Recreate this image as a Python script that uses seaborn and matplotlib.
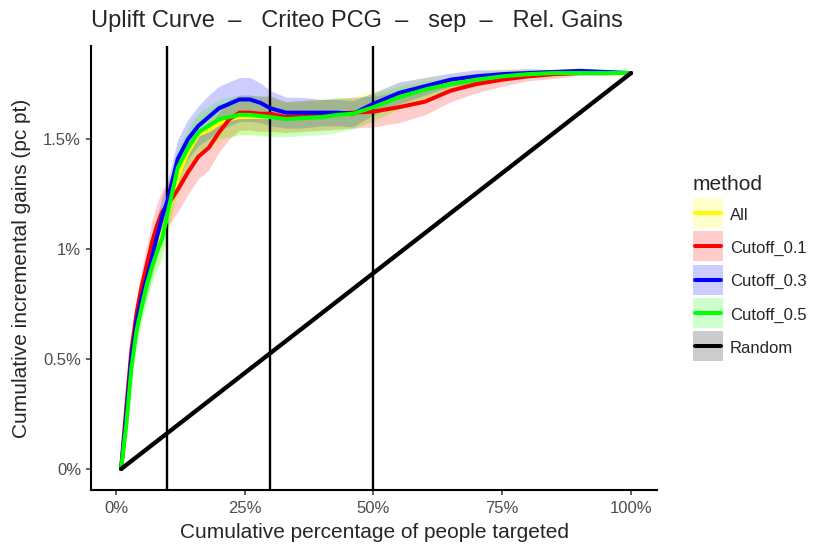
import numpy as np
import pandas as pd
import seaborn as sns
import matplotlib
matplotlib.use("Agg")
import matplotlib.pyplot as plt
from matplotlib.lines import Line2D
from matplotlib.patches import Rectangle

# (procent populacji -> zysk w pp)
pct = [1, 2, 3, 4, 5, 6, 7, 8, 9, 10, 12, 14, 16, 18, 20, 22, 24, 26, 28, 30,
       33, 36, 40, 43, 46, 50, 55, 60, 65, 70, 75, 80, 85, 90, 95, 100]

gain_all = [0, 0.21, 0.47, 0.64, 0.76, 0.86, 0.94, 1.01, 1.07, 1.15, 1.33, 1.44,
            1.52, 1.54, 1.57, 1.59, 1.60, 1.60, 1.60, 1.60, 1.595, 1.60, 1.61,
            1.61, 1.62, 1.65, 1.695, 1.73, 1.755, 1.775, 1.79, 1.80, 1.80, 1.805,
            1.80, 1.80]
gain_c01 = [0, 0.28, 0.54, 0.71, 0.83, 0.93, 1.03, 1.11, 1.17, 1.20, 1.27, 1.35,
            1.42, 1.46, 1.53, 1.59, 1.62, 1.62, 1.615, 1.615, 1.60, 1.605, 1.61,
            1.615, 1.62, 1.625, 1.645, 1.67, 1.72, 1.75, 1.77, 1.785, 1.795, 1.80,
            1.80, 1.80]
gain_c03 = [0, 0.24, 0.51, 0.67, 0.78, 0.87, 0.96, 1.06, 1.15, 1.22, 1.41, 1.50,
            1.56, 1.60, 1.64, 1.66, 1.68, 1.68, 1.665, 1.64, 1.62, 1.62, 1.62,
            1.62, 1.615, 1.66, 1.71, 1.74, 1.77, 1.785, 1.795, 1.80, 1.805, 1.81,
            1.805, 1.80]
gain_c05 = [0, 0.20, 0.46, 0.63, 0.74, 0.84, 0.92, 0.99, 1.05, 1.16, 1.37, 1.46,
            1.53, 1.56, 1.59, 1.60, 1.61, 1.61, 1.605, 1.60, 1.59, 1.595, 1.60,
            1.61, 1.615, 1.645, 1.69, 1.725, 1.75, 1.77, 1.785, 1.795, 1.80, 1.80,
            1.80, 1.80]

# polowa szerokosci pasma niepewnosci
band_all = [0, 0.03, 0.05, 0.06, 0.07, 0.08, 0.08, 0.09, 0.09, 0.09, 0.09, 0.09,
            0.09, 0.09, 0.09, 0.08, 0.08, 0.08, 0.08, 0.08, 0.07, 0.07, 0.07,
            0.07, 0.07, 0.07, 0.06, 0.05, 0.04, 0.03, 0.03, 0.02, 0.02, 0.01,
            0.01, 0]
band_c01 = [0, 0.03, 0.05, 0.07, 0.08, 0.09, 0.10, 0.10, 0.10, 0.10, 0.10, 0.10,
            0.10, 0.10, 0.09, 0.09, 0.08, 0.08, 0.08, 0.08, 0.07, 0.07, 0.07,
            0.07, 0.07, 0.07, 0.07, 0.06, 0.05, 0.04, 0.03, 0.02, 0.02, 0.01,
            0.01, 0]
band_c03 = [0, 0.03, 0.05, 0.06, 0.07, 0.08, 0.08, 0.09, 0.09, 0.09, 0.09, 0.09,
            0.09, 0.10, 0.10, 0.10, 0.10, 0.10, 0.09, 0.08, 0.07, 0.07, 0.06,
            0.06, 0.06, 0.05, 0.05, 0.04, 0.03, 0.03, 0.02, 0.02, 0.01, 0.01,
            0.01, 0]
band_c05 = [0, 0.03, 0.05, 0.06, 0.07, 0.08, 0.08, 0.08, 0.09, 0.09, 0.09, 0.09,
            0.09, 0.09, 0.09, 0.09, 0.09, 0.09, 0.09, 0.09, 0.08, 0.08, 0.08,
            0.08, 0.07, 0.06, 0.05, 0.04, 0.03, 0.03, 0.02, 0.02, 0.01, 0.01,
            0.01, 0]

random_pct = [1, 100]
random_gain = [0, 1.80]

cutoff_lines = [10, 30, 50]

methods = ["All", "Cutoff_0.1", "Cutoff_0.3", "Cutoff_0.5", "Random"]
colors = ["#FFFF00", "#FF0000", "#0000FF", "#00FF00", "#000000"]

gains = [gain_all, gain_c01, gain_c03, gain_c05]
bands = [band_all, band_c01, band_c03, band_c05]

frames = []
for m, g in zip(methods[:4], gains):
    frames.append(pd.DataFrame({"pct": pct, "gain": g, "method": m}))
frames.append(pd.DataFrame({"pct": random_pct, "gain": random_gain, "method": "Random"}))
df = pd.concat(frames, ignore_index=True)

sns.set_style("ticks")
plt.rcParams["font.family"] = ["Liberation Sans", "DejaVu Sans"]

W, H = 830, 554
fig = plt.figure(figsize=(W / 100, H / 100), dpi=100)
ax = fig.add_axes([91 / W, 1 - 490 / H, 566 / W, 444 / H])

# pasma
for g, b, c in zip(gains, bands, colors[:4]):
    g = np.array(g)
    b = np.array(b)
    ax.fill_between(pct, g - b, g + b, color=c, alpha=0.2, linewidth=0)

for v in cutoff_lines:
    ax.axvline(v, color="black", linewidth=1.7, zorder=1)

pal = dict(zip(methods, colors))
sns.lineplot(data=df[df.method != "Random"], x="pct", y="gain", hue="method",
             hue_order=methods[:4], palette=pal, linewidth=2.9, legend=False,
             ax=ax, zorder=3)
sns.lineplot(data=df[df.method == "Random"], x="pct", y="gain", color="black",
             linewidth=3.1, legend=False, ax=ax, zorder=4)

ax.set_xlim(-4.85, 105.05)
ax.set_ylim(-0.0955, 1.923)
ax.set_xticks([0, 25, 50, 75, 100])
ax.set_xticklabels(["0%", "25%", "50%", "75%", "100%"])
ax.set_yticks([0, 0.5, 1, 1.5])
ax.set_yticklabels(["0%", "0.5%", "1%", "1.5%"])
ax.tick_params(axis="both", labelsize=12, labelcolor="#4D4D4D", color="#333333",
               length=3.6, width=1.1)
ax.tick_params(axis="x", pad=4)
ax.tick_params(axis="y", pad=3.6)
for s in ["top", "right"]:
    ax.spines[s].set_visible(False)
for s in ["left", "bottom"]:
    ax.spines[s].set_linewidth(1.5)
    ax.spines[s].set_color("black")

ax.set_xlabel("Cumulative percentage of people targeted", fontsize=15)
ax.set_ylabel("Cumulative incremental gains (pc pt)", fontsize=15)
ax.xaxis.set_label_coords(0.5, -33 / 444)
ax.yaxis.set_label_coords(-60 / 566, 0.5)

fig.text(91 / W, 1 - 27.3 / H,
         "Uplift Curve  \u2013   Criteo PCG  \u2013   sep  \u2013   Rel. Gains",
         ha="left", va="baseline", fontsize=17)

# legenda rysowana recznie (styl ggplot)
fig.text(693 / W, 1 - 190 / H, "method", ha="left", va="baseline", fontsize=15)
for i, (m, c) in enumerate(zip(methods, colors)):
    top = 198 + i * 33.3
    fig.add_artist(Rectangle((693 / W, 1 - (top + 30) / H), 30 / W, 30 / H,
                             transform=fig.transFigure, facecolor=c, alpha=0.2,
                             edgecolor="none"))
    yc = 1 - (top + 15) / H
    fig.add_artist(Line2D([695 / W, 721 / W], [yc, yc], transform=fig.transFigure,
                          color=c, linewidth=2.9))
    fig.text(730 / W, 1 - (top + 21.5) / H, m, ha="left", va="baseline", fontsize=12)

fig.savefig("out.png", dpi=100)
